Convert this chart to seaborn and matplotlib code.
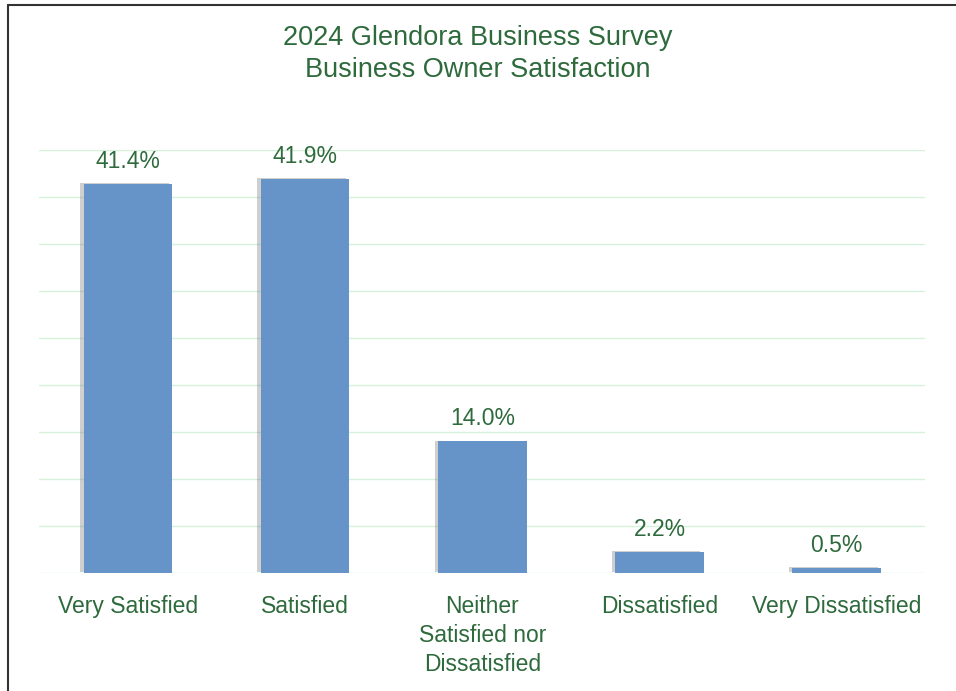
import matplotlib
matplotlib.use("Agg")
import matplotlib.pyplot as plt
import matplotlib.patheffects as pe
from matplotlib.lines import Line2D
import seaborn as sns
import pandas as pd

categories = ["Very Satisfied", "Satisfied", "Neither\nSatisfied nor\nDissatisfied",
              "Dissatisfied", "Very Dissatisfied"]
values = [41.4, 41.9, 14.0, 2.2, 0.5]
labels = ["41.4%", "41.9%", "14.0%", "2.2%", "0.5%"]

df = pd.DataFrame({"category": categories, "value": values})

sns.set_theme(style="white")
plt.rcParams["font.family"] = ["Liberation Sans", "DejaVu Sans"]

green = "#2E6A3C"
fig = plt.figure(figsize=(9.56, 6.91), dpi=100)
ax = fig.add_axes([0.041, 0.171, 0.927, 0.612])

sns.barplot(data=df, x="category", y="value", color="#6694C8", width=0.5,
            saturation=1, ax=ax, zorder=3, linewidth=0)
for p in ax.patches:
    p.set_path_effects([pe.SimplePatchShadow(offset=(-2.5, 0.5), shadow_rgbFace="#777777", alpha=0.35),
                        pe.Normal()])

ax.set_ylim(0, 45)
ax.set_yticks(range(0, 46, 5))
ax.yaxis.grid(True, color="#D6F0D9", linewidth=1, zorder=0)
ax.set_axisbelow(True)
ax.tick_params(axis="y", left=False, labelleft=False)
ax.tick_params(axis="x", bottom=False, labelsize=16.5, colors=green, pad=10)
for t in ax.get_xticklabels():
    t.set_color(green)
    t.set_verticalalignment("top")
    t.set_linespacing(1.32)
for s in ax.spines.values():
    s.set_visible(False)
ax.set_xlabel("")
ax.set_ylabel("")

for i, (v, lab) in enumerate(zip(values, labels)):
    ax.annotate(lab, (i, v), xytext=(0, 8), textcoords="offset points",
                ha="center", va="bottom", fontsize=16.5, color=green)

fig.text(0.5, 0.922, "2024 Glendora Business Survey\nBusiness Owner Satisfaction",
         ha="center", va="center", fontsize=19.5, color=green, linespacing=1.3)

fig.add_artist(Line2D([8 / 956, 8 / 956], [0, 1 - 5 / 691], transform=fig.transFigure,
                      color="#333333", linewidth=1.5))
fig.add_artist(Line2D([8 / 956, 1], [1 - 5 / 691, 1 - 5 / 691], transform=fig.transFigure,
                      color="#333333", linewidth=1.5))

fig.savefig("out.png", dpi=100, facecolor="white")
